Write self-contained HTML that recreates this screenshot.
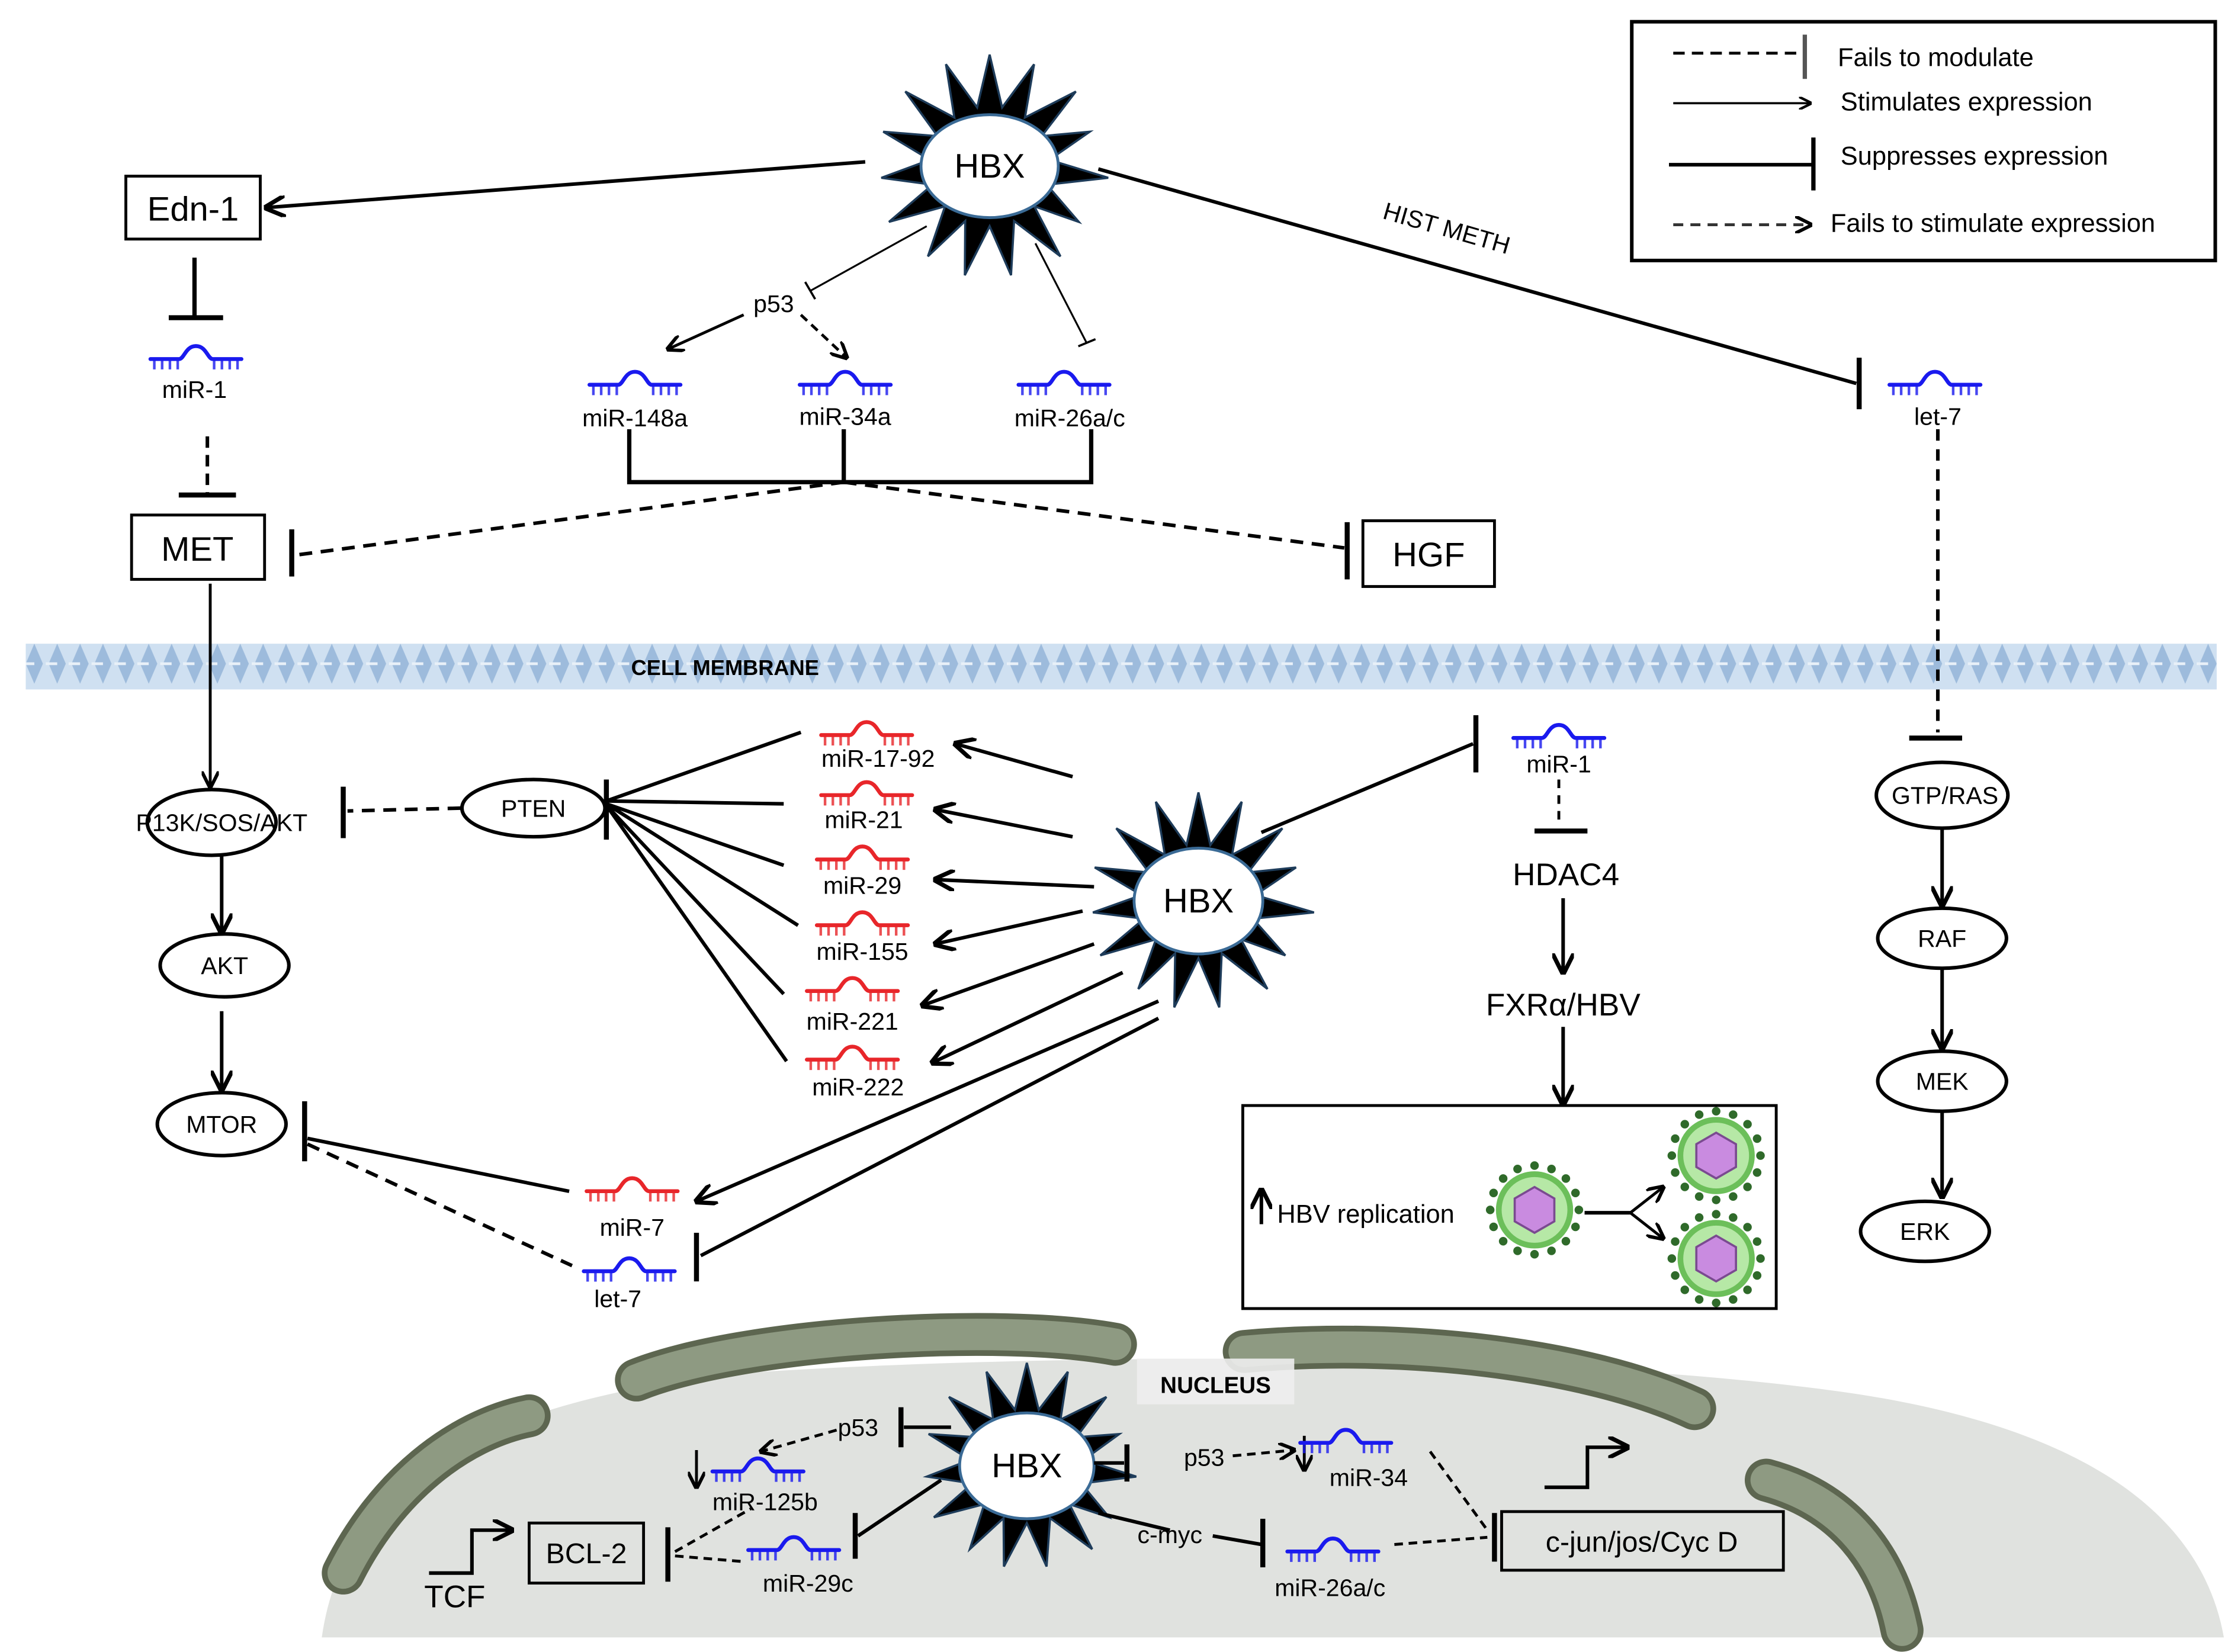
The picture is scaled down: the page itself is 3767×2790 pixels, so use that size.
<!DOCTYPE html>
<html><head><meta charset="utf-8"><style>
html,body{margin:0;padding:0;background:#fff}
svg{display:block}
text{font-family:"Liberation Sans",sans-serif;fill:#000}
</style></head><body>
<svg id="s" width="3767" height="2790" viewBox="0 0 1560 1155" xmlns="http://www.w3.org/2000/svg">
<defs>
<marker id="a" viewBox="0 0 10 10" refX="9" refY="5" markerWidth="6" markerHeight="6" orient="auto"><path d="M0,0 L10,5 L0,10" fill="none" stroke="#000" stroke-width="2"/></marker>
<symbol id="mir" viewBox="-37 -12 74 22" overflow="visible">
<path d="M-35,0 H-13 C-9,0 -8,-10 0,-10 C8,-10 9,0 13,0 H35" fill="none" stroke="currentColor" stroke-width="3" stroke-linecap="round"/>
<path d="M-32,0v8M-26,0v8M-20,0v8M-14,0v8M14,0v8M20,0v8M26,0v8M32,0v8" stroke="currentColor" stroke-width="2" opacity=".8"/>
</symbol>
<pattern id="mem" width="16" height="32" patternUnits="userSpaceOnUse"><rect width="16" height="32" fill="#cfe0f1"/><path d="M8,2 L14,16 L8,30 L2,16Z" fill="#9dbbdc"/><path d="M0,16 L8,16" stroke="#e8f0f8" stroke-width="2"/></pattern>
</defs>
<!-- legend -->
<rect x="1141" y="15" width="408" height="167" fill="#fff" stroke="#000" stroke-width="2.5"/>
<line x1="1170" y1="37" x2="1260" y2="37" stroke="#000" stroke-width="2" stroke-dasharray="8,5"/>
<line x1="1262" y1="24" x2="1262" y2="55" stroke="#555" stroke-width="3"/>
<line x1="1170" y1="72" x2="1266" y2="72" stroke="#000" stroke-width="1.5" marker-end="url(#a)"/>
<line x1="1167" y1="115" x2="1267" y2="115" stroke="#000" stroke-width="2.5"/>
<line x1="1268" y1="96" x2="1268" y2="133" stroke="#000" stroke-width="3"/>
<line x1="1170" y1="157" x2="1266" y2="157" stroke="#333" stroke-width="2" stroke-dasharray="7,5" marker-end="url(#a)"/>
<text x="1285" y="46" font-size="18">Fails to modulate</text>
<text x="1287" y="77" font-size="18">Stimulates expression</text>
<text x="1287" y="115" font-size="18">Suppresses expression</text>
<text x="1280" y="162" font-size="18">Fails to stimulate expression</text>

<!-- membrane -->
<rect x="18" y="450" width="1532" height="32" fill="url(#mem)"/>
<text x="507" y="472" font-size="15" font-weight="bold" text-anchor="middle">CELL MEMBRANE</text>

<!-- nucleus -->
<path d="M225,1145 C240,1040 330,980 520,960 C750,945 1100,945 1300,975 C1460,1000 1540,1060 1555,1145 Z" fill="#e0e2df"/>
<g fill="none" stroke-linecap="round">
<path d="M445,965 C520,935 700,925 780,940" stroke="#5d6650" stroke-width="30"/>
<path d="M445,965 C520,935 700,925 780,940" stroke="#8e9a82" stroke-width="22"/>
<path d="M870,945 C980,935 1110,950 1185,985" stroke="#5d6650" stroke-width="30"/>
<path d="M870,945 C980,935 1110,950 1185,985" stroke="#8e9a82" stroke-width="22"/>
<path d="M240,1100 C270,1040 320,1000 370,990" stroke="#5d6650" stroke-width="30"/>
<path d="M240,1100 C270,1040 320,1000 370,990" stroke="#8e9a82" stroke-width="22"/>
<path d="M1235,1035 C1290,1050 1320,1090 1330,1140" stroke="#5d6650" stroke-width="30"/>
<path d="M1235,1035 C1290,1050 1320,1090 1330,1140" stroke="#8e9a82" stroke-width="22"/>
</g>
<rect x="795" y="950" width="110" height="32" fill="#eeeeee" opacity=".9"/>
<text x="850" y="974" font-size="16" font-weight="bold" text-anchor="middle">NUCLEUS</text>

<g id="stars"></g>
<text x="692" y="124" font-size="24" text-anchor="middle">HBX</text>
<text x="838" y="638" font-size="24" text-anchor="middle">HBX</text>
<text x="718" y="1033" font-size="24" text-anchor="middle">HBX</text>

<g stroke="#000" fill="none">
<!-- top -->
<line x1="605" y1="113" x2="186" y2="145" stroke-width="2.5" marker-end="url(#a)"/>
<line x1="136" y1="180" x2="136" y2="222" stroke-width="3"/><line x1="118" y1="222" x2="156" y2="222" stroke-width="3.5"/>
<line x1="145" y1="305" x2="145" y2="345" stroke-width="2.5" stroke-dasharray="8,5"/><line x1="125" y1="346" x2="165" y2="346" stroke-width="3.5"/>
<line x1="648" y1="158" x2="567" y2="203" stroke-width="1.3"/><line x1="563" y1="197" x2="570" y2="209" stroke-width="1.5"/>
<line x1="520" y1="220" x2="467" y2="244" stroke-width="2" marker-end="url(#a)"/>
<line x1="560" y1="220" x2="592" y2="250" stroke-width="2" stroke-dasharray="6,4" marker-end="url(#a)"/>
<line x1="724" y1="170" x2="760" y2="240" stroke-width="1.3"/><line x1="754" y1="242" x2="766" y2="237" stroke-width="1.5"/>
<path d="M440,300 V337 H763 V300 M590,300 V337" stroke-width="3"/>
<line x1="590" y1="337" x2="207" y2="388" stroke-width="2.5" stroke-dasharray="9,6"/><line x1="204" y1="370" x2="204" y2="403" stroke-width="3.5"/>
<line x1="590" y1="337" x2="940" y2="383" stroke-width="2.5" stroke-dasharray="9,6"/><line x1="942" y1="365" x2="942" y2="405" stroke-width="3.5"/>
<line x1="768" y1="118" x2="1298" y2="268" stroke-width="2.5"/><line x1="1300" y1="250" x2="1300" y2="286" stroke-width="3.5"/>
<line x1="1355" y1="300" x2="1355" y2="512" stroke-width="2.5" stroke-dasharray="8,6"/><line x1="1335" y1="516" x2="1372" y2="516" stroke-width="3.5"/>
<!-- left column -->
<line x1="147" y1="408" x2="147" y2="550" stroke-width="2" marker-end="url(#a)"/>
<line x1="322" y1="565" x2="243" y2="567" stroke-width="2.5" stroke-dasharray="9,6"/><line x1="240" y1="550" x2="240" y2="586" stroke-width="3.5"/>
<line x1="155" y1="598" x2="155" y2="652" stroke-width="2.5" marker-end="url(#a)"/>
<line x1="155" y1="707" x2="155" y2="762" stroke-width="2.5" marker-end="url(#a)"/>
<line x1="424" y1="545" x2="424" y2="587" stroke-width="3.5"/>
<path d="M424,560 L560,512 M424,560 L548,562 M424,562 L548,605 M424,562 L558,647 M424,563 L548,695 M424,563 L550,742" stroke-width="2.5"/>
<line x1="750" y1="543" x2="668" y2="520" stroke-width="2.5" marker-end="url(#a)"/>
<line x1="750" y1="585" x2="654" y2="566" stroke-width="2.5" marker-end="url(#a)"/>
<line x1="765" y1="620" x2="654" y2="615" stroke-width="2.5" marker-end="url(#a)"/>
<line x1="757" y1="637" x2="654" y2="660" stroke-width="2.5" marker-end="url(#a)"/>
<line x1="765" y1="660" x2="645" y2="703" stroke-width="2.5" marker-end="url(#a)"/>
<line x1="785" y1="680" x2="652" y2="743" stroke-width="2.5" marker-end="url(#a)"/>
<line x1="810" y1="700" x2="487" y2="840" stroke-width="2.5" marker-end="url(#a)"/>
<line x1="810" y1="712" x2="490" y2="878" stroke-width="2.5"/><line x1="487" y1="862" x2="487" y2="896" stroke-width="3.5"/>
<line x1="213" y1="770" x2="213" y2="812" stroke-width="3.5"/>
<line x1="215" y1="796" x2="398" y2="833" stroke-width="2.5"/>
<line x1="215" y1="800" x2="400" y2="885" stroke-width="2.5" stroke-dasharray="9,6"/>
<!-- right-middle -->
<line x1="882" y1="582" x2="1030" y2="520" stroke-width="2.5"/><line x1="1032" y1="500" x2="1032" y2="540" stroke-width="3.5"/>
<line x1="1090" y1="545" x2="1090" y2="578" stroke-width="2" stroke-dasharray="6,5"/><line x1="1073" y1="581" x2="1110" y2="581" stroke-width="3.5"/>
<line x1="1093" y1="628" x2="1093" y2="680" stroke-width="2.5" marker-end="url(#a)"/>
<line x1="1093" y1="718" x2="1093" y2="772" stroke-width="2.5" marker-end="url(#a)"/>
<rect x="869" y="773" width="373" height="142" stroke-width="2"/>
<line x1="882" y1="856" x2="882" y2="832" stroke-width="2.5" marker-end="url(#a)"/>
<path d="M1108,848 H1140" stroke-width="2.5"/>
<path d="M1140,848 L1163,830" stroke-width="2" marker-end="url(#a)"/>
<path d="M1140,848 L1163,866" stroke-width="2" marker-end="url(#a)"/>
<!-- right column -->
<line x1="1358" y1="580" x2="1358" y2="633" stroke-width="2.5" marker-end="url(#a)"/>
<line x1="1358" y1="678" x2="1358" y2="733" stroke-width="2.5" marker-end="url(#a)"/>
<line x1="1358" y1="778" x2="1358" y2="837" stroke-width="2.5" marker-end="url(#a)"/>
<!-- nucleus lines -->
<line x1="665" y1="998" x2="632" y2="998" stroke-width="2.5"/><line x1="630" y1="984" x2="630" y2="1012" stroke-width="3.5"/>
<line x1="585" y1="1000" x2="532" y2="1015" stroke-width="2" stroke-dasharray="6,4" marker-end="url(#a)"/>
<line x1="487" y1="1014" x2="487" y2="1040" stroke-width="2" marker-end="url(#a)"/>
<line x1="658" y1="1035" x2="600" y2="1074" stroke-width="2.5"/><line x1="598" y1="1058" x2="598" y2="1090" stroke-width="3.5"/>
<path d="M300,1100 H330 V1070 H358" stroke-width="2.5" marker-end="url(#a)"/>
<rect x="370" y="1065" width="80" height="42" stroke-width="2"/>
<line x1="472" y1="1085" x2="525" y2="1055" stroke-width="2" stroke-dasharray="6,4"/>
<line x1="472" y1="1088" x2="520" y2="1092" stroke-width="2" stroke-dasharray="6,4"/>
<line x1="467" y1="1068" x2="467" y2="1106" stroke-width="3.5"/>
<line x1="765" y1="1023" x2="786" y2="1023" stroke-width="2.5"/><line x1="788" y1="1010" x2="788" y2="1036" stroke-width="3.5"/>
<line x1="862" y1="1018" x2="905" y2="1014" stroke-width="2" stroke-dasharray="6,4" marker-end="url(#a)"/>
<line x1="912" y1="1004" x2="912" y2="1028" stroke-width="2" marker-end="url(#a)"/>
<line x1="1000" y1="1015" x2="1040" y2="1070" stroke-width="2" stroke-dasharray="6,4"/>
<line x1="1045" y1="1058" x2="1045" y2="1092" stroke-width="3.5"/>
<line x1="768" y1="1058" x2="818" y2="1070" stroke-width="2.5"/>
<line x1="848" y1="1074" x2="882" y2="1080" stroke-width="2.5"/><line x1="883" y1="1062" x2="883" y2="1096" stroke-width="3.5"/>
<line x1="975" y1="1080" x2="1040" y2="1075" stroke-width="2" stroke-dasharray="6,4"/>
<rect x="1050" y="1057" width="197" height="41" stroke-width="2"/>
<path d="M1080,1040 H1110 V1012 H1138" stroke-width="2.5" marker-end="url(#a)"/>
</g>

<!-- boxes/ellipses -->
<g stroke="#000" stroke-width="2" fill="#fff">
<rect x="88" y="123" width="94" height="44"/>
<rect x="92" y="360" width="93" height="45"/>
<rect x="953" y="364" width="92" height="46"/>
</g>
<g stroke="#000" stroke-width="2.5" fill="none">
<ellipse cx="148" cy="575" rx="45" ry="23"/>
<ellipse cx="373" cy="565" rx="50" ry="20"/>
<ellipse cx="157" cy="675" rx="45" ry="22"/>
<ellipse cx="155" cy="786" rx="45" ry="22"/>
<ellipse cx="1358" cy="556" rx="46" ry="23"/>
<ellipse cx="1358" cy="656" rx="45" ry="21"/>
<ellipse cx="1358" cy="756" rx="45" ry="21"/>
<ellipse cx="1346" cy="861" rx="45" ry="21"/>
</g>
<text x="135" y="154" font-size="24" text-anchor="middle">Edn-1</text>
<text x="138" y="392" font-size="24" text-anchor="middle">MET</text>
<text x="999" y="396" font-size="24" text-anchor="middle">HGF</text>
<text x="155" y="581" font-size="17" text-anchor="middle">P13K/SOS/AKT</text>
<text x="373" y="571" font-size="17" text-anchor="middle">PTEN</text>
<text x="157" y="681" font-size="17" text-anchor="middle">AKT</text>
<text x="155" y="792" font-size="17" text-anchor="middle">MTOR</text>
<text x="1360" y="562" font-size="17" text-anchor="middle">GTP/RAS</text>
<text x="1358" y="662" font-size="17" text-anchor="middle">RAF</text>
<text x="1358" y="762" font-size="17" text-anchor="middle">MEK</text>
<text x="1346" y="867" font-size="17" text-anchor="middle">ERK</text>
<text x="541" y="218" font-size="17" text-anchor="middle">p53</text>
<text x="1010" y="165" font-size="17" text-anchor="middle" transform="rotate(16 1010 165)">HIST METH</text>
<text x="1095" y="619" font-size="22" text-anchor="middle">HDAC4</text>
<text x="1093" y="710" font-size="22" text-anchor="middle">FXRα/HBV</text>
<text x="893" y="855" font-size="18">HBV replication</text>
<text x="410" y="1093" font-size="20" text-anchor="middle">BCL-2</text>
<text x="318" y="1124" font-size="22" text-anchor="middle">TCF</text>
<text x="1148" y="1085" font-size="20" text-anchor="middle">c-jun/jos/Cyc D</text>
<text x="600" y="1004" font-size="17" text-anchor="middle">p53</text>
<text x="842" y="1025" font-size="17" text-anchor="middle">p53</text>
<text x="818" y="1079" font-size="17" text-anchor="middle">c-myc</text>

<!-- miRs -->
<g style="color:#1a1aee">
<use href="#mir" x="101" y="240" width="72" height="20"/><use href="#mir" x="408" y="258" width="72" height="20"/>
<use href="#mir" x="555" y="258" width="72" height="20"/><use href="#mir" x="708" y="258" width="72" height="20"/>
<use href="#mir" x="1317" y="258" width="72" height="20"/><use href="#mir" x="1054" y="505" width="72" height="20"/>
<use href="#mir" x="404" y="878" width="72" height="20"/><use href="#mir" x="494" y="1018" width="72" height="20"/>
<use href="#mir" x="519" y="1073" width="72" height="20"/><use href="#mir" x="905" y="998" width="72" height="20"/>
<use href="#mir" x="896" y="1074" width="72" height="20"/>
</g>
<g style="color:#e8262a">
<use href="#mir" x="570" y="503" width="72" height="20"/><use href="#mir" x="570" y="545" width="72" height="20"/>
<use href="#mir" x="567" y="590" width="72" height="20"/><use href="#mir" x="567" y="636" width="72" height="20"/>
<use href="#mir" x="560" y="682" width="72" height="20"/><use href="#mir" x="560" y="730" width="72" height="20"/>
<use href="#mir" x="406" y="822" width="72" height="20"/>
</g>
<g font-size="17" text-anchor="middle">
<text x="136" y="278">miR-1</text><text x="444" y="298">miR-148a</text><text x="591" y="297">miR-34a</text>
<text x="748" y="298">miR-26a/c</text><text x="1355" y="297">let-7</text><text x="1090" y="540">miR-1</text>
<text x="614" y="536">miR-17-92</text><text x="604" y="579">miR-21</text><text x="603" y="625">miR-29</text>
<text x="603" y="671">miR-155</text><text x="596" y="720">miR-221</text><text x="600" y="766">miR-222</text>
<text x="442" y="864">miR-7</text><text x="432" y="914">let-7</text>
<text x="535" y="1056">miR-125b</text><text x="565" y="1113">miR-29c</text>
<text x="957" y="1039">miR-34</text><text x="930" y="1116">miR-26a/c</text>
</g>

<!-- viruses -->
<g id="vir"></g>
</svg>
<script>
var NS="http://www.w3.org/2000/svg";
function star(cx,cy,n,R,r,rx,ry){
 var p=[];for(var i=0;i<2*n;i++){var a=Math.PI*i/n-Math.PI/2;var rr=i%2?r:R;p.push((cx+rr*Math.cos(a)*(i%2?1:1+0.08*Math.sin(i*1.7)))+","+(cy+rr*Math.sin(a)));}
 var g=document.getElementById("stars");
 var pl=document.createElementNS(NS,"polygon");pl.setAttribute("points",p.join(" "));pl.setAttribute("fill","#000");pl.setAttribute("stroke","#1e3c5a");pl.setAttribute("stroke-width","1.5");g.appendChild(pl);
 var e=document.createElementNS(NS,"ellipse");e.setAttribute("cx",cx);e.setAttribute("cy",cy);e.setAttribute("rx",rx);e.setAttribute("ry",ry);e.setAttribute("fill","#fff");e.setAttribute("stroke","#3a6a95");e.setAttribute("stroke-width","2");g.appendChild(e);
}
star(692,116,15,78,42,48,36);star(838,630,15,76,40,45,37);star(718,1025,15,72,40,47,37);
function vir(cx,cy){
 var g=document.getElementById("vir");
 var c=document.createElementNS(NS,"circle");c.setAttribute("cx",cx);c.setAttribute("cy",cy);c.setAttribute("r",25);c.setAttribute("fill","#b6e8a6");c.setAttribute("stroke","#6cbf5a");c.setAttribute("stroke-width","4");g.appendChild(c);
 for(var i=0;i<16;i++){var a=i*Math.PI/8;var d=document.createElementNS(NS,"circle");d.setAttribute("cx",cx+31*Math.cos(a));d.setAttribute("cy",cy+31*Math.sin(a));d.setAttribute("r",3);d.setAttribute("fill","#2f6a2a");g.appendChild(d);}
 var p=[];for(var j=0;j<6;j++){var b=j*Math.PI/3+Math.PI/6;p.push((cx+16*Math.cos(b))+","+(cy+16*Math.sin(b)));}
 var h=document.createElementNS(NS,"polygon");h.setAttribute("points",p.join(" "));h.setAttribute("fill","#c98be0");h.setAttribute("stroke","#7a4a90");h.setAttribute("stroke-width","1.5");g.appendChild(h);
}
vir(1073,846);vir(1200,808);vir(1200,880);
</script>
</body></html>
